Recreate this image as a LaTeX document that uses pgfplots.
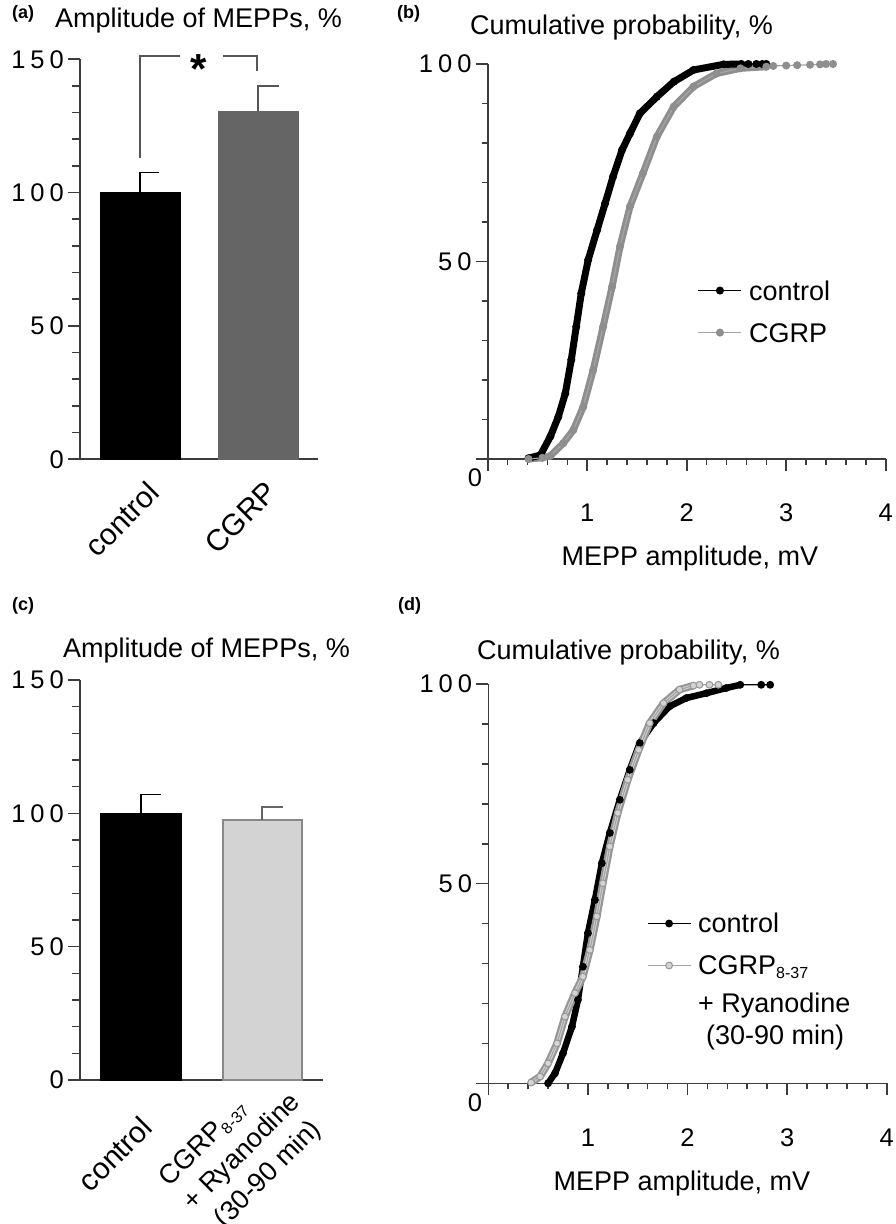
\documentclass[border=0pt]{standalone}
\usepackage{fontspec}
\setmainfont{Liberation Sans}
\usepackage{pgfplots}
\pgfplotsset{compat=1.18}

\definecolor{axgray}{HTML}{3C3C3C}
\definecolor{bardark}{HTML}{656565}
\definecolor{barlight}{HTML}{D3D3D3}
\definecolor{edgegray}{HTML}{888888}
\definecolor{cgrpgray}{HTML}{8E8E8E}
\definecolor{cgrpline}{HTML}{A5A5A5}
\definecolor{ringgray}{HTML}{969696}
\definecolor{ringfill}{HTML}{D4D4D4}
\definecolor{brgray}{HTML}{555555}

\newcommand{\tfont}{\fontsize{27}{32}\selectfont}
\newcommand{\cfont}{\fontsize{30}{34}\selectfont}
\newcommand{\nfont}{\fontsize{25.5}{30}\selectfont}
\newcommand{\dg}{\kern5pt}
\newcommand{\subs}[1]{\raisebox{-4pt}{\fontsize{16}{16}\selectfont #1}}

\pgfplotsset{
  panel/.style={
    scale only axis,
    anchor=south west,
    axis x line*=bottom,
    axis y line*=left,
    axis line style={axgray, line width=1.6pt, -},
    x axis line style={-},
    y axis line style={-},
    tick style={axgray, line width=1.6pt},
    tick align=outside,
    major tick length=12pt,
    minor tick length=7pt,
    tick label style={font=\nfont, text=black, inner sep=0pt},
    yticklabel style={anchor=east, xshift=-4pt},
    clip=false,
  },
  cdflegend/.style={
    legend style={draw=none, fill=none, inner sep=0pt, outer sep=0pt,
      font=\tfont, row sep=0pt, column sep=7pt,
      cells={anchor=base west}, nodes={inner sep=0pt, text depth=}},
    legend image code/.code={\draw[mark repeat=2, mark phase=2, ##1] plot coordinates {(0pt,9.5pt) (21.5pt,9.5pt) (43pt,9.5pt)};},
  },
}

\begin{document}
\begin{tikzpicture}
\path[use as bounding box] (0pt,0pt) rectangle (895pt,1224pt);

% panel letters and titles
\node[anchor=base west, inner sep=0pt, font=\bfseries\fontsize{18}{20}\selectfont] at (12pt,1205pt) {(a)};
\node[anchor=base west, inner sep=0pt, font=\tfont] at (55pt,1196pt) {Amplitude of MEPPs, \%};
\node[anchor=base west, inner sep=0pt, font=\bfseries\fontsize{18}{20}\selectfont] at (397pt,1205pt) {(b)};
\node[anchor=base west, inner sep=0pt, font=\tfont] at (470pt,1189pt) {Cumulative probability, \%};
\node[anchor=base west, inner sep=0pt, font=\bfseries\fontsize{18}{20}\selectfont] at (12pt,613pt) {(c)};
\node[anchor=base west, inner sep=0pt, font=\tfont] at (63pt,566pt) {Amplitude of MEPPs, \%};
\node[anchor=base west, inner sep=0pt, font=\bfseries\fontsize{18}{20}\selectfont] at (398pt,613pt) {(d)};
\node[anchor=base west, inner sep=0pt, font=\tfont] at (477pt,564pt) {Cumulative probability, \%};

% ---------------- (a) ----------------
\begin{axis}[panel, at={(80pt,764.7pt)}, width=238pt, height=400pt,
  xmin=-0.5085, xmax=1.5085, ymin=0, ymax=150,
  ytick={0,50,100,150}, yticklabels={0,5\dg0,1\dg0\dg0,1\dg5\dg0},
  minor ytick={10,20,30,40,60,70,80,90,110,120,130,140},
  minor tick length=8pt,
  xtick={0,1}, xticklabels={control,CGRP},
  major x tick style={draw=none},
  xticklabel style={font=\cfont, xshift=6pt, yshift=-8pt, rotate=45, anchor=north east},
]
\addplot[ybar, bar width=80pt, fill=black, draw=black] coordinates {(0,100)};
\addplot[ybar, bar width=80pt, fill=bardark, draw=bardark] coordinates {(1,130.7)};
\addplot[black, line width=1.6pt] coordinates {(0,100) (0,107.6) (0.165,107.6)};
\addplot[brgray, line width=1.6pt] coordinates {(1,130.7) (1,140) (1.175,140)};
\addplot[brgray, line width=1.6pt] coordinates {(0,112.9) (0,151.2) (0.339,151.2)};
\addplot[brgray, line width=1.6pt] coordinates {(0.703,151.2) (0.99,151.2) (0.99,145.7)};
\node[font=\bfseries\fontsize{42}{42}\selectfont, inner sep=0pt] at (axis cs:0.5,146.5) {*};
\end{axis}

% ---------------- (b) ----------------
\begin{axis}[panel, cdflegend, at={(487.7pt,765pt)}, width=398pt, height=395pt,
  xmin=0, xmax=4, ymin=0, ymax=100,
  ytick={0,50,100}, yticklabels={,5\dg0,1\dg0\dg0},
  minor ytick={10,20,30,40,60,70,80,90},
  xtick={0,1,2,3,4}, xticklabels={,1,2,3,4},
  minor x tick num=4,
  minor tick length=6pt,
  xticklabel style={anchor=base, yshift=-51pt},
  xlabel={MEPP amplitude, mV},
  xlabel style={font=\tfont, at={(axis description cs:0.508,0)}, anchor=base, yshift=-107pt, inner sep=0pt},
  legend style={at={(0.528,0.453)}, anchor=north west},
]
\addplot[forget plot, cgrpgray, line width=7pt, line join=round] coordinates {
(0.41,0) (0.55,0.3) (0.63,0.8) (0.76,4) (0.86,7.3) (0.96,13.2) (1.06,22.5) (1.16,33.5)
(1.25,43.6) (1.33,53.8) (1.43,63.9) (1.56,72.3) (1.70,81.6) (1.87,89.2) (2.07,94.3)
(2.30,97.6) (2.54,98.9) (2.80,99.3)};
\addplot[forget plot, black, line width=7pt, line join=round] coordinates {
(0.41,0.2) (0.53,1) (0.63,5.7) (0.71,10.7) (0.78,16.6) (0.84,25.1) (0.89,33.5) (0.94,41.9)
(1.01,50.4) (1.10,58) (1.18,64.7) (1.26,71.5) (1.35,78.2) (1.43,82.4) (1.53,87.5)
(1.70,91.7) (1.87,95.5) (2.07,98.5) (2.37,99.9) (2.55,100)};
\addplot[black, line width=1.2pt, mark=*, mark size=3.4pt, mark options={black}] coordinates {
(0.41,0.2) (0.53,1) (0.63,5.7) (0.71,10.7) (0.78,16.6) (0.84,25.1) (0.89,33.5) (0.94,41.9)
(1.01,50.4) (1.10,58) (1.18,64.7) (1.26,71.5) (1.35,78.2) (1.43,82.4) (1.53,87.5)
(1.70,91.7) (1.87,95.5) (2.07,98.5) (2.37,99.9) (2.55,100) (2.62,100) (2.70,100) (2.76,100) (2.80,100)};
\addlegendentry{control\rule[-22pt]{0pt}{42pt}}
\addplot[cgrpline, line width=1.2pt, mark=*, mark size=3.4pt, mark options={cgrpgray}] coordinates {
(0.41,0) (0.55,0.3) (0.63,0.8) (0.76,4) (0.86,7.3) (0.96,13.2) (1.06,22.5) (1.16,33.5)
(1.25,43.6) (1.33,53.8) (1.43,63.9) (1.56,72.3) (1.70,81.6) (1.87,89.2) (2.07,94.3)
(2.30,97.6) (2.54,98.9) (2.80,99.3) (2.87,99.5) (3.00,99.6) (3.11,99.7) (3.24,99.8)
(3.34,99.9) (3.40,100) (3.47,100)};
\addlegendentry{CGRP\rule[-6pt]{0pt}{26pt}}
\node[font=\nfont, anchor=base, inner sep=0pt, xshift=-12.7pt, yshift=-28pt] at (axis cs:0,0) {0};
\end{axis}

% ---------------- (c) ----------------
\begin{axis}[panel, at={(80pt,144pt)}, width=243pt, height=400pt,
  xmin=-0.504, xmax=1.504, ymin=0, ymax=150,
  ytick={0,50,100,150}, yticklabels={0,5\dg0,1\dg0\dg0,1\dg5\dg0},
  minor ytick={10,20,30,40,60,70,80,90,110,120,130,140},
  minor tick length=8pt,
  xtick={0}, xticklabels={control},
  major x tick style={draw=none},
  xticklabel style={font=\cfont, xshift=-2pt, yshift=-22pt, rotate=45, anchor=north east},
  extra x ticks={1},
  extra x tick labels={{CGRP\subs{8-37}\\+ Ryanodine\\\hspace*{10pt}(30-90 min)}},
  extra x tick style={major x tick style={draw=none},
    every x tick label/.style={font=\fontsize{27}{34}\selectfont, align=left, inner sep=0pt,
      xshift=2pt, yshift=26pt, rotate=45, anchor=north east}},
]
\addplot[ybar, bar width=81pt, fill=black, draw=black] coordinates {(0,100)};
\addplot[ybar, bar width=79pt, fill=barlight, draw=edgegray, line width=2pt] coordinates {(1,97.5)};
\addplot[black, line width=1.6pt] coordinates {(0,100) (0,107.1) (0.165,107.1)};
\addplot[brgray!90, line width=1.6pt] coordinates {(1,97.5) (1,102.3) (1.174,102.3)};
\end{axis}

% ---------------- (d) ----------------
\begin{axis}[panel, cdflegend, at={(488.3pt,140.7pt)}, width=398.4pt, height=399.3pt,
  xmin=0, xmax=4, ymin=0, ymax=100,
  ytick={0,50,100}, yticklabels={,5\dg0,1\dg0\dg0},
  minor ytick={10,20,30,40,60,70,80,90},
  xtick={0,1,2,3,4}, xticklabels={,1,2,3,4},
  minor x tick num=4,
  minor tick length=6pt,
  xticklabel style={anchor=base, yshift=-51pt},
  xlabel={MEPP amplitude, mV},
  xlabel style={font=\tfont, at={(axis description cs:0.486,0)}, anchor=base, yshift=-107pt, inner sep=0pt},
  legend style={at={(0.3983,0.4265)}, anchor=north west},
]
\addplot[forget plot, black, line width=6.5pt, line join=round] coordinates {
(0.60,0) (0.67,2.5) (0.75,7.5) (0.84,14.2) (0.90,20.9) (0.95,29.2) (1.00,37.6) (1.07,45.9)
(1.14,55.1) (1.22,62.7) (1.32,71) (1.42,78.5) (1.52,85.2) (1.66,90.2) (1.82,94.4)
(1.99,96.5) (2.19,97.7) (2.39,99) (2.53,99.8)};
\addplot[black, line width=1.2pt, mark=*, mark size=3.3pt, mark options={black}] coordinates {
(0.60,0) (0.67,2.5) (0.75,7.5) (0.84,14.2) (0.90,20.9) (0.95,29.2) (1.00,37.6) (1.07,45.9)
(1.14,55.1) (1.22,62.7) (1.32,71) (1.42,78.5) (1.52,85.2) (1.66,90.2) (1.82,94.4)
(1.99,96.5) (2.19,97.7) (2.39,99) (2.53,99.8) (2.74,99.8) (2.83,99.8)};
\addlegendentry{control\rule[-22pt]{0pt}{42pt}}
\addplot[forget plot, ringgray, line width=7.5pt, line join=round] coordinates {
(0.43,0.2) (0.52,1.7) (0.60,5) (0.69,10) (0.77,16.7) (0.87,22.6) (0.95,26.7) (1.02,33.4)
(1.09,41.8) (1.15,50.1) (1.22,59.3) (1.30,67.7) (1.40,76) (1.51,83.5) (1.62,90.2)
(1.76,95.2) (1.92,98.6) (2.06,99.6)};
\addplot[forget plot, ringfill, line width=3pt, line join=round] coordinates {
(0.43,0.2) (0.52,1.7) (0.60,5) (0.69,10) (0.77,16.7) (0.87,22.6) (0.95,26.7) (1.02,33.4)
(1.09,41.8) (1.15,50.1) (1.22,59.3) (1.30,67.7) (1.40,76) (1.51,83.5) (1.62,90.2)
(1.76,95.2) (1.92,98.6) (2.06,99.6)};
\addplot[cgrpline, line width=1.2pt, mark=*, mark size=3.4pt, mark options={fill=ringfill, draw=ringgray, line width=1pt}] coordinates {
(0.43,0.2) (0.52,1.7) (0.60,5) (0.69,10) (0.77,16.7) (0.87,22.6) (0.95,26.7) (1.02,33.4)
(1.09,41.8) (1.15,50.1) (1.22,59.3) (1.30,67.7) (1.40,76) (1.51,83.5) (1.62,90.2)
(1.76,95.2) (1.92,98.6) (2.06,99.6) (2.12,99.8) (2.22,99.8) (2.31,99.8)};
\addlegendentry{CGRP\subs{8-37}\rule[-18pt]{0pt}{38pt}}
\addlegendimage{empty legend}
\addlegendentry{+ Ryanodine\rule[-12pt]{0pt}{32pt}}
\addlegendimage{empty legend}
\addlegendentry{\hspace*{8pt}(30-90 min)\rule[-6pt]{0pt}{26pt}}
\node[font=\nfont, anchor=base, inner sep=0pt, xshift=-13.3pt, yshift=-28pt] at (axis cs:0,0) {0};
\end{axis}
\end{tikzpicture}
\end{document}
